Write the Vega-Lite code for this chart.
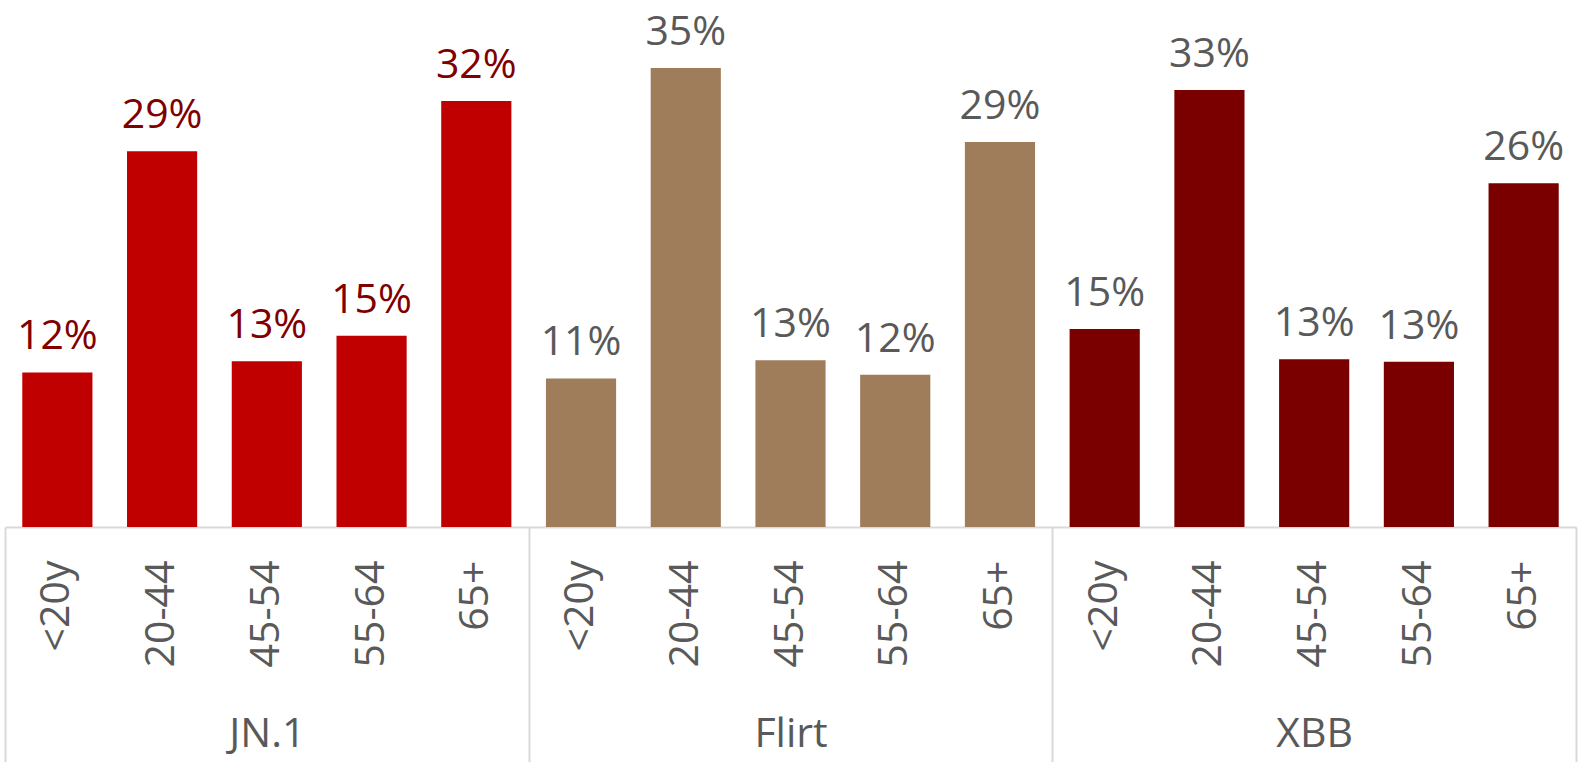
{
  "$schema": "https://vega.github.io/schema/vega-lite/v6.json",
  "autosize": {"type": "none"},
  "padding": {"left": 5, "right": 2, "top": 0, "bottom": 235},
  "width": 1571,
  "height": 527,
  "background": "white",
  "config": {
    "view": {"stroke": null},
    "font": "Open Sans",
    "text": {"font": "Open Sans"}
  },
  "data": {
    "values": [
      {"group": "JN.1", "age": "<20y", "key": "JN.1|<20y", "value": 0.1173},
      {"group": "JN.1", "age": "20-44", "key": "JN.1|20-44", "value": 0.2852},
      {"group": "JN.1", "age": "45-54", "key": "JN.1|45-54", "value": 0.1258},
      {"group": "JN.1", "age": "55-64", "key": "JN.1|55-64", "value": 0.1452},
      {"group": "JN.1", "age": "65+", "key": "JN.1|65+", "value": 0.3233},
      {"group": "Flirt", "age": "<20y", "key": "Flirt|<20y", "value": 0.1128},
      {"group": "Flirt", "age": "20-44", "key": "Flirt|20-44", "value": 0.3484},
      {"group": "Flirt", "age": "45-54", "key": "Flirt|45-54", "value": 0.1265},
      {"group": "Flirt", "age": "55-64", "key": "Flirt|55-64", "value": 0.1155},
      {"group": "Flirt", "age": "65+", "key": "Flirt|65+", "value": 0.2922},
      {"group": "XBB", "age": "<20y", "key": "XBB|<20y", "value": 0.1502},
      {"group": "XBB", "age": "20-44", "key": "XBB|20-44", "value": 0.3317},
      {"group": "XBB", "age": "45-54", "key": "XBB|45-54", "value": 0.1273},
      {"group": "XBB", "age": "55-64", "key": "XBB|55-64", "value": 0.1255},
      {"group": "XBB", "age": "65+", "key": "XBB|65+", "value": 0.261}
    ]
  },
  "layer": [
    {
      "mark": {"type": "bar"},
      "encoding": {
        "x": {
          "field": "key", "type": "nominal", "sort": null,
          "scale": {"paddingInner": 0.33, "paddingOuter": 0.165},
          "axis": {
            "title": null, "orient": "bottom",
            "labelExpr": "split(datum.label, '|')[1]",
            "labelAngle": -90, "labelFontSize": 41, "labelColor": "#595959",
            "labelFont": "Open Sans", "labelPadding": 33,
            "ticks": false, "domain": true, "domainColor": "#D9D9D9", "domainWidth": 2,
            "grid": false, "labelOverlap": false
          }
        },
        "y": {
          "field": "value", "type": "quantitative",
          "scale": {"domain": [0, 0.4], "nice": false, "zero": true},
          "axis": null
        },
        "color": {
          "field": "group", "type": "nominal",
          "scale": {"domain": ["JN.1", "Flirt", "XBB"], "range": ["#C00000", "#9F7C5A", "#7A0000"]},
          "legend": null
        }
      }
    },
    {
      "mark": {"type": "text", "baseline": "alphabetic", "align": "center", "dy": -23, "fontSize": 41, "font": "Open Sans"},
      "encoding": {
        "x": {
          "field": "key", "type": "nominal", "sort": null,
          "scale": {"paddingInner": 0.33, "paddingOuter": 0.165},
          "axis": null
        },
        "y": {"field": "value", "type": "quantitative"},
        "text": {"field": "value", "type": "quantitative", "format": ".0%"},
        "color": {
          "condition": {"test": "datum.group === 'JN.1'", "value": "#800000"},
          "value": "#595959"
        }
      }
    },
    {
      "mark": {"type": "rule", "opacity": 0},
      "encoding": {
        "x": {
          "field": "group", "type": "nominal", "sort": null,
          "scale": {"domain": ["JN.1", "Flirt", "XBB"], "paddingInner": 0, "paddingOuter": 0},
          "axis": {
            "title": null, "orient": "bottom",
            "domain": false, "ticks": true, "tickBand": "extent",
            "tickSize": 235, "tickColor": "#D9D9D9", "tickWidth": 2,
            "labelAngle": 0, "labelFontSize": 41, "labelColor": "#595959",
            "labelFont": "Open Sans", "labelPadding": -48, "labelBaseline": "top",
            "grid": false
          }
        }
      }
    }
  ],
  "resolve": {"scale": {"x": "independent", "color": "independent"}, "axis": {"x": "independent"}}
}
